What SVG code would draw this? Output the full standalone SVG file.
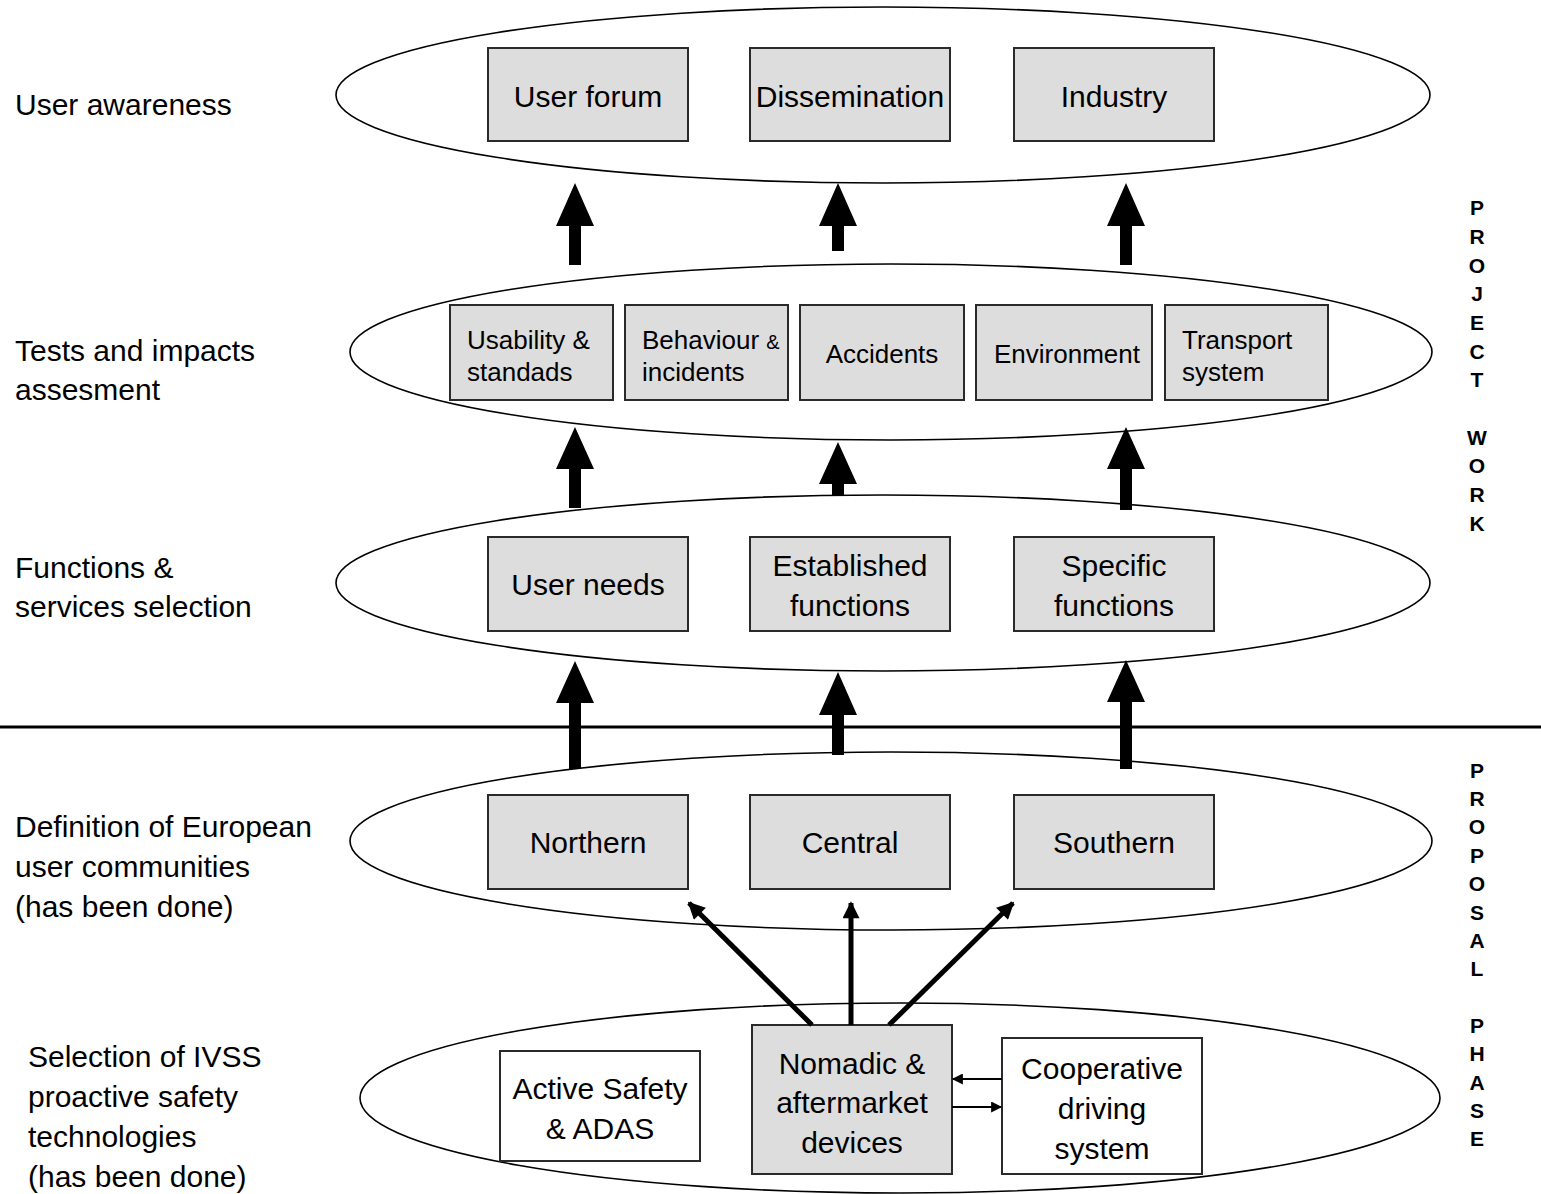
<svg xmlns="http://www.w3.org/2000/svg" width="1541" height="1194" viewBox="0 0 1541 1194">
<defs>
<style>
text{font-family:"Liberation Sans",Arial,sans-serif;fill:#000}
.lbl{font-size:30px}
.bx{font-size:30px;text-anchor:middle}
.sm{font-size:26px}
.smc{font-size:26px;text-anchor:middle}
.vert{font-size:21px;font-weight:bold;text-anchor:middle}
.ell{fill:none;stroke:#000;stroke-width:1.6}
.gbox{fill:#dddddd;stroke:#2a2a2a;stroke-width:2}
.wbox{fill:#ffffff;stroke:#2a2a2a;stroke-width:2}
.thick{fill:#000}
.diag{stroke:#000;stroke-width:5;fill:none}
.thin{stroke:#000;stroke-width:2;fill:none}
</style>
<marker id="ah" viewBox="0 0 10 10" refX="9" refY="5" markerWidth="19" markerHeight="17" markerUnits="userSpaceOnUse" orient="auto">
<path d="M0,0 L10,5 L0,10 z" fill="#000"/>
</marker>
<marker id="ahs" viewBox="0 0 10 10" refX="9" refY="5" markerWidth="16" markerHeight="11" markerUnits="userSpaceOnUse" orient="auto">
<path d="M0,0 L10,5 L0,10 z" fill="#000"/>
</marker>
</defs>
<rect width="1541" height="1194" fill="#fff"/>

<g id="layer-labels">
<text class="lbl" x="15" y="115">User awareness</text>
<text class="lbl" x="15" y="361">Tests and impacts</text>
<text class="lbl" x="15" y="400">assesment</text>
<text class="lbl" x="15" y="578">Functions &amp;</text>
<text class="lbl" x="15" y="617">services selection</text>
<text class="lbl" x="15" y="837">Definition of European</text>
<text class="lbl" x="15" y="877">user communities</text>
<text class="lbl" x="15" y="917">(has been done)</text>
<text class="lbl" x="28" y="1067">Selection of IVSS</text>
<text class="lbl" x="28" y="1107">proactive safety</text>
<text class="lbl" x="28" y="1147">technologies</text>
<text class="lbl" x="28" y="1187">(has been done)</text>
</g>

<g id="phase-labels">
<text class="vert" x="1477" y="215">P</text>
<text class="vert" x="1477" y="244">R</text>
<text class="vert" x="1477" y="273">O</text>
<text class="vert" x="1477" y="301">J</text>
<text class="vert" x="1477" y="330">E</text>
<text class="vert" x="1477" y="359">C</text>
<text class="vert" x="1477" y="387">T</text>
<text class="vert" x="1477" y="445">W</text>
<text class="vert" x="1477" y="473">O</text>
<text class="vert" x="1477" y="502">R</text>
<text class="vert" x="1477" y="531">K</text>
<text class="vert" x="1477" y="778">P</text>
<text class="vert" x="1477" y="806">R</text>
<text class="vert" x="1477" y="834">O</text>
<text class="vert" x="1477" y="863">P</text>
<text class="vert" x="1477" y="891">O</text>
<text class="vert" x="1477" y="920">S</text>
<text class="vert" x="1477" y="948">A</text>
<text class="vert" x="1477" y="976">L</text>
<text class="vert" x="1477" y="1033">P</text>
<text class="vert" x="1477" y="1061">H</text>
<text class="vert" x="1477" y="1090">A</text>
<text class="vert" x="1477" y="1118">S</text>
<text class="vert" x="1477" y="1146">E</text>
</g>

<line id="divider" x1="0" y1="727" x2="1541" y2="727" stroke="#000" stroke-width="3"/>

<g id="ellipse-awareness"><ellipse class="ell" cx="883" cy="95" rx="547" ry="88"/></g>
<g id="ellipse-tests"><ellipse class="ell" cx="891" cy="352" rx="541" ry="88"/></g>
<g id="ellipse-functions"><ellipse class="ell" cx="883" cy="583" rx="547" ry="88"/></g>
<g id="ellipse-communities"><ellipse class="ell" cx="891" cy="841" rx="541" ry="89"/></g>
<g id="ellipse-technologies"><ellipse class="ell" cx="900" cy="1098" rx="540" ry="95"/></g>

<g id="user-forum"><rect class="gbox" x="488" y="48" width="200" height="93"/><text class="bx" x="588" y="107">User forum</text></g>
<g id="dissemination"><rect class="gbox" x="750" y="48" width="200" height="93"/><text class="bx" x="850" y="107">Dissemination</text></g>
<g id="industry"><rect class="gbox" x="1014" y="48" width="200" height="93"/><text class="bx" x="1114" y="107">Industry</text></g>

<g id="usability"><rect class="gbox" x="450" y="305" width="163" height="95"/><text class="sm" x="467" y="349">Usability &amp;</text><text class="sm" x="467" y="381">standads</text></g>
<g id="behaviour"><rect class="gbox" x="625" y="305" width="163" height="95"/><text class="sm" x="642" y="349">Behaviour <tspan font-size="20">&amp;</tspan></text><text class="sm" x="642" y="381">incidents</text></g>
<g id="accidents"><rect class="gbox" x="800" y="305" width="164" height="95"/><text class="smc" x="882" y="363">Accidents</text></g>
<g id="environment"><rect class="gbox" x="976" y="305" width="176" height="95"/><text class="smc" x="1067" y="363">Environment</text></g>
<g id="transport"><rect class="gbox" x="1165" y="305" width="163" height="95"/><text class="sm" x="1182" y="349">Transport</text><text class="sm" x="1182" y="381">system</text></g>

<g id="user-needs"><rect class="gbox" x="488" y="537" width="200" height="94"/><text class="bx" x="588" y="595">User needs</text></g>
<g id="established"><rect class="gbox" x="750" y="537" width="200" height="94"/><text class="bx" x="850" y="576">Established</text><text class="bx" x="850" y="616">functions</text></g>
<g id="specific"><rect class="gbox" x="1014" y="537" width="200" height="94"/><text class="bx" x="1114" y="576">Specific</text><text class="bx" x="1114" y="616">functions</text></g>

<g id="northern"><rect class="gbox" x="488" y="795" width="200" height="94"/><text class="bx" x="588" y="853">Northern</text></g>
<g id="central"><rect class="gbox" x="750" y="795" width="200" height="94"/><text class="bx" x="850" y="853">Central</text></g>
<g id="southern"><rect class="gbox" x="1014" y="795" width="200" height="94"/><text class="bx" x="1114" y="853">Southern</text></g>

<g id="active-safety"><rect class="wbox" x="500" y="1051" width="200" height="110"/><text class="bx" x="600" y="1099">Active Safety</text><text class="bx" x="600" y="1139">&amp; ADAS</text></g>
<g id="nomadic"><rect class="gbox" x="752" y="1025" width="200" height="149"/><text class="bx" x="852" y="1074">Nomadic &amp;</text><text class="bx" x="852" y="1113">aftermarket</text><text class="bx" x="852" y="1153">devices</text></g>
<g id="cooperative"><rect class="wbox" x="1002" y="1038" width="200" height="136"/><text class="bx" x="1102" y="1079">Cooperative</text><text class="bx" x="1102" y="1119">driving</text><text class="bx" x="1102" y="1159">system</text></g>

<g id="connectors">
<polygon class="thick" points="575,183 594,226 581,226 581,265 569,265 569,226 556,226"/>
<polygon class="thick" points="838,183 857,226 844,226 844,251 832,251 832,226 819,226"/>
<polygon class="thick" points="1126,183 1145,226 1132,226 1132,265 1120,265 1120,226 1107,226"/>
<polygon class="thick" points="575,427 594,469 581,469 581,508 569,508 569,469 556,469"/>
<polygon class="thick" points="838,442 857,484 844,484 844,496 832,496 832,484 819,484"/>
<polygon class="thick" points="1126,427 1145,469 1132,469 1132,510 1120,510 1120,469 1107,469"/>
<polygon class="thick" points="575,661 594,703 581,703 581,769 569,769 569,703 556,703"/>
<polygon class="thick" points="838,672 857,715 844,715 844,755 832,755 832,715 819,715"/>
<polygon class="thick" points="1126,660 1145,702 1132,702 1132,769 1120,769 1120,702 1107,702"/>
<line class="diag" x1="812" y1="1025" x2="689" y2="903" marker-end="url(#ah)"/>
<line class="diag" x1="851" y1="1025" x2="851" y2="903" marker-end="url(#ah)"/>
<line class="diag" x1="889" y1="1025" x2="1013" y2="903" marker-end="url(#ah)"/>
<line class="thin" x1="1002" y1="1079" x2="953" y2="1079" marker-end="url(#ahs)"/>
<line class="thin" x1="952" y1="1107" x2="1001" y2="1107" marker-end="url(#ahs)"/>
</g>
</svg>
